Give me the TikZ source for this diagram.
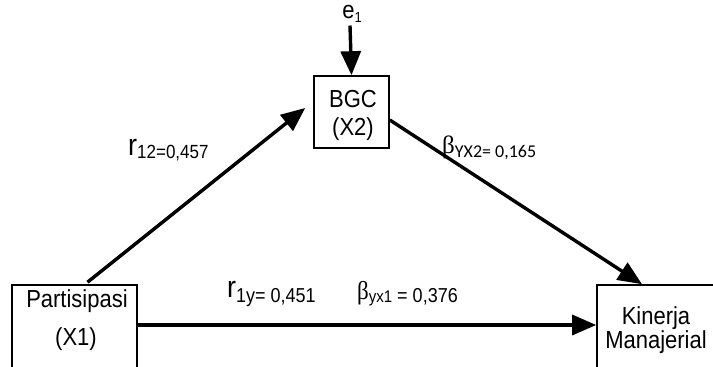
\documentclass[tikz,border=0pt]{standalone}
\usepackage{fontspec}
\usepackage{graphicx}
\setmainfont{Liberation Sans}
\newfontfamily\grfont{Liberation Serif}
\newfontfamily\calfont{Carlito}
\usetikzlibrary{arrows.meta,calc}
\newcommand{\fs}[1]{\fontsize{#1}{#1}\selectfont}
\newcommand{\tall}[1]{\scalebox{1}[1.12]{#1}}
\begin{document}
\begin{tikzpicture}[x=1pt,y=-1pt,
  box/.style={draw,line width=1.6pt,rectangle,inner sep=0pt},
  txt/.style={inner sep=0pt,font=\fs{22}},
  lbl/.style={inner sep=0pt,anchor=base west},
  arr/.style={line width=3.4pt,-{Triangle[length=24pt,width=20pt]}}]
\useasboundingbox (0,0) rectangle (713,367);
\clip (0,0) rectangle (713,367);
% boxes (the lower two run past the bottom edge)
\node[box,minimum width=125pt,minimum height=130pt] (p) at (74.5,350) {};
\node[box,minimum width=75pt,minimum height=72pt] (b) at (351.5,112) {};
\node[box,minimum width=140pt,minimum height=130pt] (k) at (667,350) {};
% box texts
\node[txt] (p1) at (77,301) {\tall{Partisipasi}};
\node[txt] (p2) at (76,339) {\tall{(X1)}};
\node[txt] (b1) at (353,99) {\tall{BGC}};
\node[txt] (b2) at (353,129) {\tall{(X2)}};
\node[txt] (k1) at (656,318) {\tall{Kinerja}};
\node[txt] (k2) at (656,342) {\tall{Manajerial}};
% error term
\node[inner sep=0pt,font=\fs{22}] (e) at (352,14) {\tall{e\raisebox{-3pt}{\fs{13}1}}};
% paths
\draw[arr] ($(e.south)+(-2,3)$) -- (b.north);
\draw[arr] ($(p.north)+(13,-2)$) -- ($(b.west)+(-8,-4)$);
\draw[arr] ($(b.east)+(0,8)$) -- ($(k.north)+(-25,0)$);
\draw[arr] (p.east |- 0,325) -- (k.west |- 0,325);
% coefficients
\node[lbl] (r12) at (128,155) {\tall{{\fs{27}r}\raisebox{-3pt}{\fs{17}12=0,457}}};
\node[lbl] (byx2) at (442,153) {{\grfont\fs{25}β}\raisebox{-4pt}{\calfont\fs{18}YX2= 0,165}};
\node[lbl] (r1y) at (227,297) {\tall{{\fs{27}r}\raisebox{-5pt}{\fs{18}1y= 0,451}}};
\node[lbl] (byx1) at (357,299) {\tall{{\grfont\fs{23}β}\raisebox{-3pt}{\fs{15}yx1}\raisebox{-3pt}{\fs{18} = 0,376}}};
\end{tikzpicture}
\end{document}
